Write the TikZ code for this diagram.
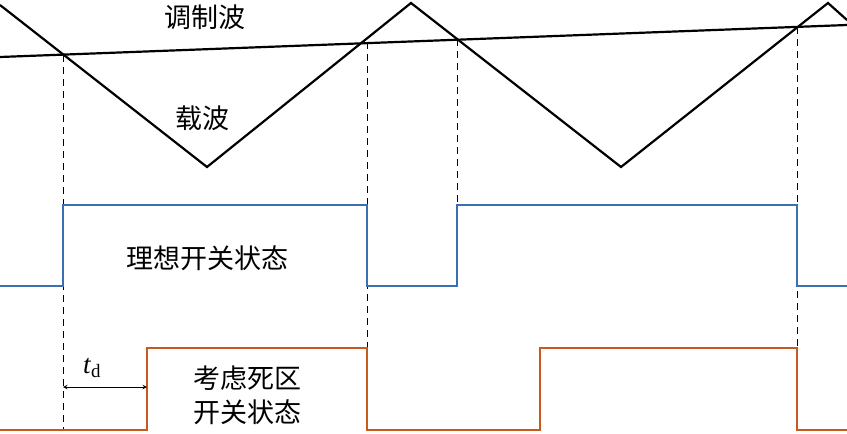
\documentclass[tikz,border=0pt]{standalone}
\usepackage{fontspec}
\setmainfont{Liberation Serif}
\newfontfamily\cjk{Noto Sans CJK SC}
\begin{document}
\begin{tikzpicture}[x=1pt,y=-1pt,
  wave/.style={line width=2.2pt},
  guide/.style={line width=1pt,dash pattern=on 7pt off 5pt},
  lbl/.style={font=\cjk\fontsize{27}{32}\selectfont,inner sep=0pt}]
\useasboundingbox (0,0) rectangle (847,434);
\draw[wave] (0,5) -- (207,167) -- (411,3) -- (621,167) -- (828,3) -- (847,20);
\draw[wave] (0,57) -- (847,25);
\coordinate (a1) at (63,55); \coordinate (a2) at (367,42);
\coordinate (a3) at (457,39); \coordinate (a4) at (797,27);
\coordinate (b1) at (63,430); \coordinate (b2) at (367,430);
\coordinate (b3) at (457,286); \coordinate (b4) at (797,430);
\draw[guide] (a1)--(b1); \draw[guide] (a2)--(b2); \draw[guide] (a3)--(b3); \draw[guide] (a4)--(b4);
\draw[wave,color={rgb,255:red,60;green,110;blue,180}] (0,286) -- (63,286) -- (63,205) -- (367,205) -- (367,286) -- (457,286) -- (457,205) -- (797,205) -- (797,286) -- (847,286);
\draw[wave,color={rgb,255:red,200;green,90;blue,30}] (0,430) -- (147,430) -- (147,348) -- (367,348) -- (367,430) -- (540,430) -- (540,348) -- (797,348) -- (797,430) -- (847,430);
\coordinate (t1) at (63,387); \coordinate (t2) at (147,387);
\draw[<->,line width=1pt,>=stealth] (t1) -- (t2);
\node[font=\fontsize{27}{32}\selectfont] (td) at (92,368) {\textit{t}\textsubscript{d}};
\node[lbl] (m) at (205,17) {调制波};
\node[lbl] (c) at (202,118) {载波};
\node[lbl] (i) at (207,258) {理想开关状态};
\node[lbl] (d1) at (247,378) {考虑死区};
\node[lbl] (d2) at (247,412) {开关状态};
\end{tikzpicture}
\end{document}
